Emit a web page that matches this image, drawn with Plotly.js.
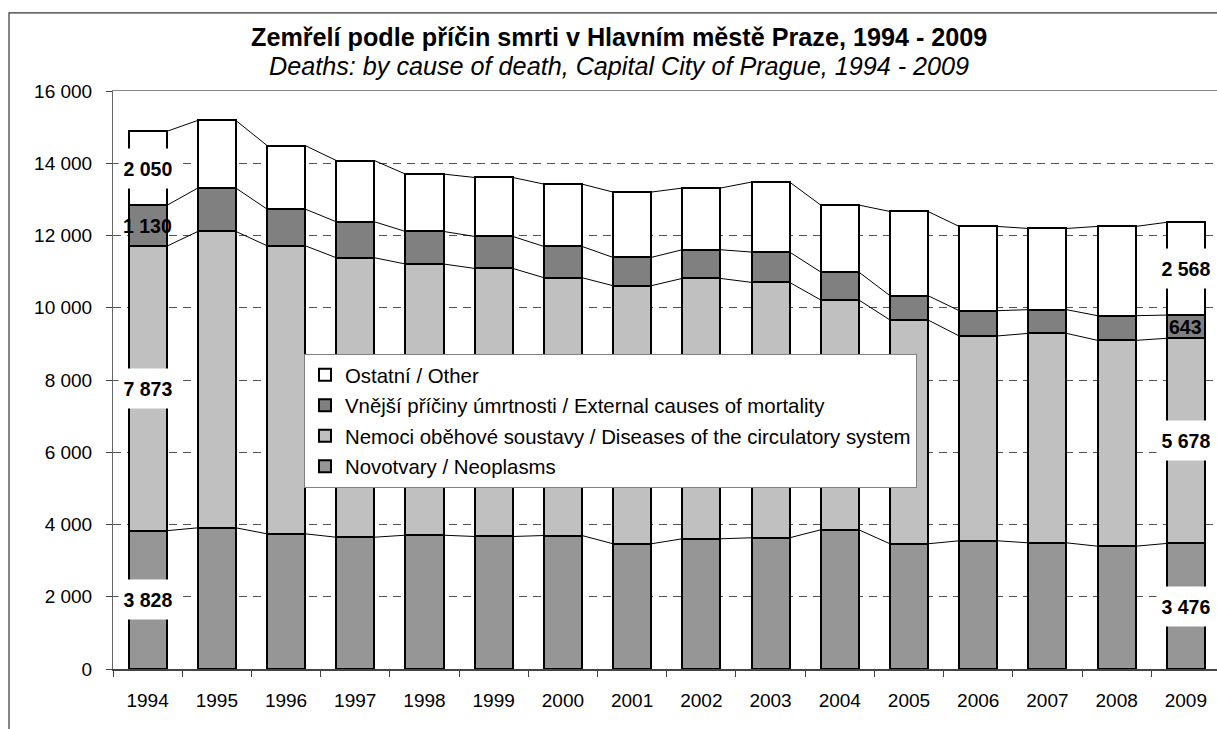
<!DOCTYPE html>
<html>
<head>
<meta charset="utf-8">
<script src="https://cdn.plot.ly/plotly-3.0.1.min.js"></script>
<style>html,body{margin:0;padding:0;background:#fff;}#chart{width:1217px;height:729px;}</style>
</head>
<body>
<div id="chart"></div>
<script>
// ---- data ----
const years = ['1994','1995','1996','1997','1998','1999','2000','2001','2002','2003','2004','2005','2006','2007','2008','2009'];
const neoplasms   = [3828, 3908, 3742, 3648, 3704, 3668, 3695, 3466, 3604, 3632, 3853, 3466, 3549, 3493, 3399, 3476];
const circulatory = [7873, 8204, 7975, 7737, 7507, 7421, 7137, 7144, 7208, 7070, 6362, 6196, 5670, 5798, 5698, 5678];
const external    = [1130, 1201, 1015,  996,  901,  885,  866,  783,  794,  840,  774,  672,  700,  656,  683,  643];
const other       = [2050, 1872, 1759, 1695, 1588, 1632, 1725, 1809, 1707, 1937, 1854, 2331, 2332, 2248, 2471, 2568];
const seriesNames = ['Novotvary / Neoplasms', 'Nemoci oběhové soustavy / Diseases of the circulatory system', 'Vnější příčiny úmrtnosti / External causes of mortality', 'Ostatní / Other'];
const labelYears = ['1994', '2009'];

const FONT = 'Arial, "Liberation Sans", sans-serif';
const series = [neoplasms, circulatory, external, other];
const colors = ['#969696', '#c0c0c0', '#808080', '#ffffff'];
const labelBg = ['#ffffff', '#ffffff', null, '#ffffff'];
const bargap = 0.45;
const half = (1 - bargap) / 2;

const traces = [];
series.forEach((vals, s) => {
  traces.push({
    type: 'bar', x: years, y: vals, name: seriesNames[s],
    legendgroup: 'g' + s, legendrank: 100 - s,
    marker: {color: colors[s], line: {color: '#000', width: 2}},
    hoverinfo: 'x+y'
  });
});

// cumulative tops
const cum = [];
let run = years.map(() => 0);
series.forEach(vals => { run = run.map((r, i) => r + vals[i]); cum.push(run.slice()); });

// series lines between bars
cum.forEach(level => {
  const xs = [], ys = [];
  for (let i = 0; i < years.length - 1; i++) {
    xs.push(i + half, i + 1 - half, null);
    ys.push(level[i], level[i + 1], null);
  }
  traces.push({type: 'scatter', mode: 'lines', x: xs, y: ys, xaxis: 'x2', yaxis: 'y',
    line: {color: '#000', width: 1}, showlegend: false, hoverinfo: 'skip'});
});

// data labels
const annotations = [];
labelYears.forEach(yr => {
  const i = years.indexOf(yr);
  series.forEach((vals, s) => {
    const base = s === 0 ? 0 : cum[s - 1][i];
    const a = {
      xref: 'x2', yref: 'y', x: i, y: base + vals[i] / 2,
      text: '<b>' + vals[i].toLocaleString('en-US').replace(/,/g, ' ') + '</b>',
      showarrow: false, font: {family: FONT, size: 19.5, color: '#000'},
      xanchor: 'center', yanchor: 'middle'
    };
    if (labelBg[s]) { a.bgcolor = labelBg[s]; a.width = 56; a.height = 37; }
    annotations.push(a);
  });
});

annotations.push({
  xref: 'paper', yref: 'paper', x: 0.458, y: 1.0933, xanchor: 'center', yanchor: 'middle',
  text: '<b>Zemřelí podle příčin smrti v Hlavním městě Praze, 1994 - 2009</b>',
  showarrow: false, font: {family: FONT, size: 25.2, color: '#000'}
});
annotations.push({
  xref: 'paper', yref: 'paper', x: 0.458, y: 1.0432, xanchor: 'center', yanchor: 'middle',
  text: '<i>Deaths: by cause of death, Capital City of Prague, 1994 - 2009</i>',
  showarrow: false, font: {family: FONT, size: 25.2, color: '#000'}
});

const layout = {
  width: 1217, height: 729,
  margin: {l: 113, r: 0, t: 91, b: 60, pad: 0},
  paper_bgcolor: '#fff', plot_bgcolor: '#fff',
  barmode: 'stack', bargap: bargap,
  separators: ', ',
  font: {family: FONT, size: 19, color: '#000'},
  showlegend: true,
  legend: {
    x: 0.173, y: 0.545, xanchor: 'left', yanchor: 'top',
    bgcolor: '#fff', bordercolor: '#808080', borderwidth: 1,
    traceorder: 'grouped', tracegroupgap: 1,
    font: {family: FONT, size: 20.4, color: '#000'}
  },
  xaxis: {
    type: 'category', range: [-0.5, 15.45], fixedrange: true,
    showline: true, linecolor: '#444', linewidth: 1.5,
    ticks: 'outside', tickson: 'boundaries', ticklen: 6, tickcolor: '#444', tickwidth: 1,
    showgrid: false, ticklabelstandoff: 14,
    tickfont: {family: FONT, size: 19, color: '#000'}
  },
  xaxis2: {
    type: 'linear', overlaying: 'x', range: [-0.5, 15.45], side: 'top', fixedrange: true,
    showline: true, linecolor: '#888', linewidth: 1.5,
    showticklabels: false, ticks: '', showgrid: false, zeroline: false
  },
  yaxis: {
    range: [0, 16000], dtick: 2000, tickformat: ',d', fixedrange: true,
    showline: true, linecolor: '#666', linewidth: 1,
    ticks: 'outside', ticklen: 6, tickcolor: '#444',
    showgrid: true, gridcolor: '#555', gridwidth: 1, griddash: '8px,6px',
    zeroline: false, ticklabelstandoff: 10,
    tickfont: {family: FONT, size: 19, color: '#000'}
  },
  annotations: annotations,
  shapes: [{
    type: 'rect', xref: 'paper', yref: 'paper',
    x0: -0.0942, x1: 1.2, y0: -0.3, y1: 1.135,
    line: {color: '#333', width: 1.2}, fillcolor: 'rgba(0,0,0,0)', layer: 'below'
  }]
};

Plotly.newPlot('chart', traces, layout, {displayModeBar: false, staticPlot: true});
</script>
</body>
</html>
